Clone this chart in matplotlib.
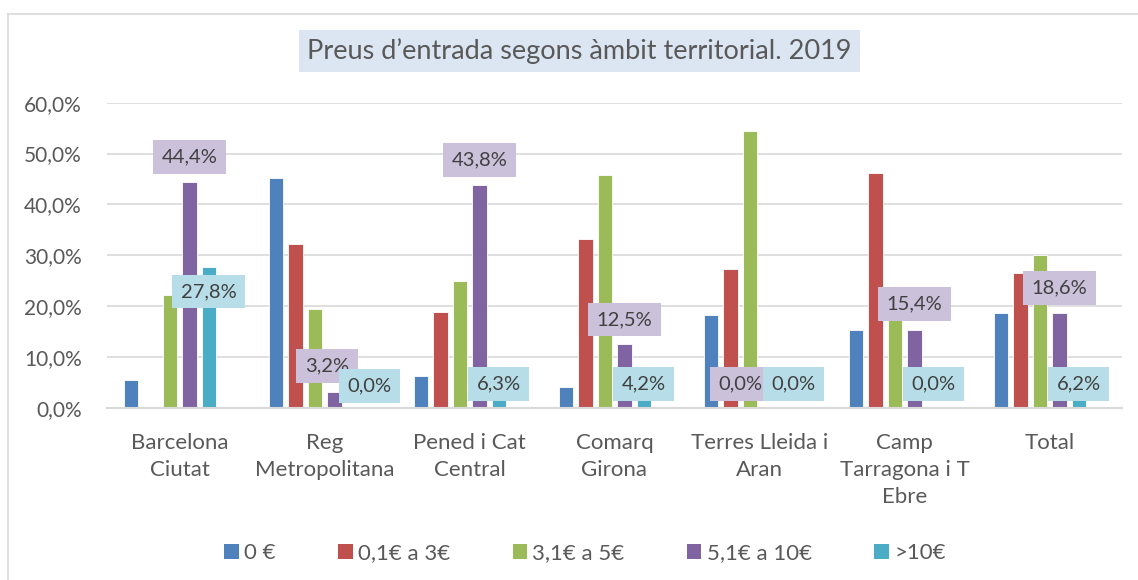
import numpy as np
import matplotlib
matplotlib.use("Agg")
import matplotlib.pyplot as plt
from matplotlib.lines import Line2D
from matplotlib.patches import Patch

# data (percent)
categories = ["Barcelona\nCiutat", "Reg\nMetropolitana", "Pened i Cat\nCentral",
              "Comarq\nGirona", "Terres Lleida i\nAran", "Camp\nTarragona i T\nEbre", "Total"]
series_names = ["0 €", "0,1€ a 3€", "3,1€ a 5€", "5,1€ a 10€", ">10€"]
free = [5.6, 45.2, 6.3, 4.2, 18.2, 15.4, 18.6]
up_to_3 = [0.0, 32.3, 18.8, 33.3, 27.3, 46.2, 26.5]
up_to_5 = [22.2, 19.4, 25.0, 45.8, 54.5, 23.1, 30.1]
up_to_10 = [44.4, 3.2, 43.8, 12.5, 0.0, 15.4, 18.6]
over_10 = [27.8, 0.0, 6.3, 4.2, 0.0, 0.0, 6.2]

colors = ["#4F81BD", "#C0504D", "#9BBB59", "#8064A2", "#4BACC6"]
label_bg = {3: "#CCC1DA", 4: "#B7DEE8"}
# where Excel put the data callouts: (x shift in categories, y centre in %)
callout_pos = {
    3: [(0, 49.3), (-0.05, 8.2), (0, 48.7), (0, 17.4), (-0.2, 4.8), (0, 20.4), (0, 23.6)],
    4: [(0, 22.9), (0.11, 4.4), (0, 4.8), (0, 4.8), (0.035, 4.8), (0, 4.8), (0, 4.8)],
}

W, H = 1138, 580
TXT = "#595959"
plt.rcParams["font.family"] = ["Lato", "DejaVu Sans"]

fig = plt.figure(figsize=(W / 100, H / 100), dpi=100)
ax = fig.add_axes([107 / W, 1 - 408 / H, (1122 - 107) / W, (408 - 102.7) / H])

series = [free, up_to_3, up_to_5, up_to_10, over_10]
x = np.arange(len(categories))
slot = 19.5 / 145
bar_w = 14.5 / 145
for i, vals in enumerate(series):
    xs = x + (i - 2.5) * slot
    ax.bar(xs, vals, bar_w, color=colors[i], edgecolor="white", linewidth=0.6, zorder=2)
    if i in callout_pos:
        for j, v in enumerate(vals):
            dx, yc = callout_pos[i][j]
            ax.text(xs[j] + dx, yc, f"{v:.1f}%".replace(".", ","), ha="center", va="center",
                    fontsize=14.5, color="#404040", zorder=4,
                    bbox=dict(boxstyle="square,pad=0.42", fc=label_bg[i], ec="none"))

ax.set_xlim(-0.5, len(categories) - 0.5)
ax.set_ylim(0, 60)
ax.set_yticks(np.arange(0, 61, 10))
ax.set_yticklabels([f"{t:.1f}%".replace(".", ",") for t in np.arange(0, 61, 10)])
ax.set_xticks(x)
ax.set_xticklabels(categories, linespacing=1.45, fontsize=16)
ax.tick_params(axis="both", length=0, colors=TXT)
ax.tick_params(axis="y", labelsize=15, pad=18)
ax.tick_params(axis="x", pad=18)
ax.grid(axis="y", color="#D9D9D9", linewidth=1.2, zorder=0)
ax.set_axisbelow(True)
for s in ["top", "right", "left"]:
    ax.spines[s].set_visible(False)
ax.spines["bottom"].set_color("#D9D9D9")
ax.spines["bottom"].set_linewidth(1.5)

# title in a shaded box
fig.text(579.5 / W, 1 - 51 / H, "Preus d\u2019entrada segons àmbit territorial. 2019",
         ha="center", va="center", fontsize=19.5, color=TXT,
         bbox=dict(boxstyle="square,pad=0.3", fc="#DCE6F2", ec="none"))

handles = [Patch(facecolor=c, edgecolor="none") for c in colors]
fig.legend(handles, series_names, loc="center", bbox_to_anchor=(585 / W, 1 - 553 / H),
           ncol=5, frameon=False, fontsize=16, labelcolor=TXT, handlelength=0.65,
           handleheight=0.65, handletextpad=0.25, columnspacing=2.8)

# chart frame: only left and top edges fall inside the picture
fig.add_artist(Line2D([7.5 / W, 7.5 / W], [0, 1 - 13.5 / H], transform=fig.transFigure,
                      color="#D9D9D9", linewidth=1.2))
fig.add_artist(Line2D([7.5 / W, 1], [1 - 13.5 / H, 1 - 13.5 / H], transform=fig.transFigure,
                      color="#D9D9D9", linewidth=1.2))

fig.savefig("out.png", dpi=100, facecolor="white")
